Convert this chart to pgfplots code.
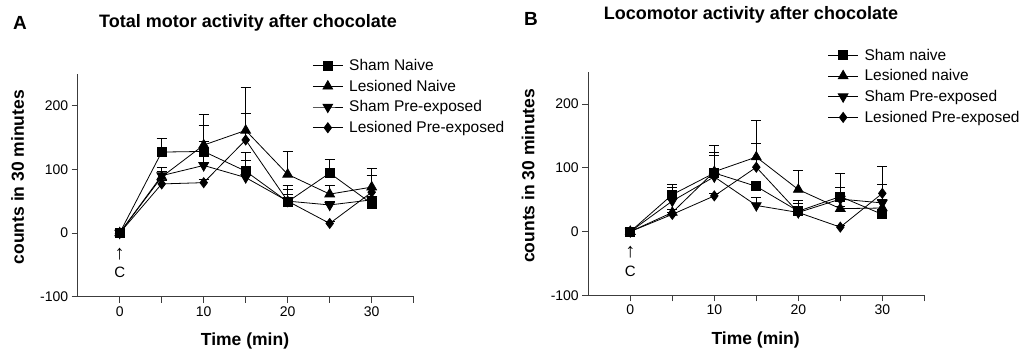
\documentclass[border=0pt]{standalone}
\usepackage{fontspec}
\setmainfont{Liberation Sans}
\usepackage{pgfplots}
\pgfplotsset{compat=1.18}
\definecolor{axgray}{RGB}{60,60,60}
\pgfplotsset{
  panel/.style={
    scale only axis,
    width=336pt, height=223pt,
    anchor=south west,
    xmin=-5, xmax=35, ymin=-100, ymax=250,
    axis x line=bottom, axis y line=left,
    axis line style={-, axgray, line width=0.9pt},
    tick align=outside,
    tick style={axgray, line width=0.9pt},
    major tick length=6pt, minor tick length=6pt,
    xtick={0,10,20,30}, xticklabels={0,10,20,30},
    minor xtick={5,15,25,35},
    ytick={-100,0,100,200}, yticklabels={-100,0,100,200},
    ticklabel style={font=\fontsize{14}{16}\selectfont},
    label style={font=\bfseries\fontsize{17.5}{20}\selectfont},
    xlabel={Time (min)},
    ylabel={counts in 30 minutes},
    x label style={at={(rel axis cs:0.498,-0.20)}, anchor=center},
    y label style={at={(rel axis cs:-0.179,0.536)}, anchor=center, rotate=0},
    legend cell align=left,
    legend style={draw=none, fill=none, font=\fontsize{15.5}{17}\selectfont,
      row sep=4pt, inner sep=0pt,
      /tikz/every odd column/.append style={column sep=4pt}},
    legend image code/.code={\draw[mark repeat=2,mark phase=2] plot coordinates {(0pt,0pt) (15pt,0pt) (30pt,0pt)};},
    clip=false,
  },
  errs/.style={black, line width=0.8pt, error bars/.cd, y dir=plus, y explicit,
    error bar style={black, line width=0.8pt},
    error mark options={rotate=90, mark size=5pt, black, line width=0.8pt}},
  msq/.style={black, line width=0.8pt, mark=square*, mark size=4.5pt, mark options={solid, fill=black}},
  mtu/.style={black, line width=0.8pt, mark=triangle*, mark size=5.6pt, mark options={solid, fill=black}},
  mtd/.style={black, line width=0.8pt, mark=triangle*, mark size=5.6pt, mark options={solid, fill=black, rotate=180}},
  mdi/.style={black, line width=0.8pt, mark=diamond*, mark size=5pt, mark options={solid, fill=black}},
}
\begin{document}
\begin{tikzpicture}[x=1pt,y=1pt]
\useasboundingbox (0,0) rectangle (1026,356);
\node[font=\bfseries\fontsize{19}{21}\selectfont] at (20,333.5) {A};
\node[font=\bfseries\fontsize{18}{20}\selectfont] at (248,333.5) {Total motor activity after chocolate};
\node[font=\bfseries\fontsize{19}{21}\selectfont] at (531,337) {B};
\node[font=\bfseries\fontsize{18}{20}\selectfont] at (751,341.5) {Locomotor activity after chocolate};

\begin{axis}[panel, at={(77.7pt,59.3pt)},
  legend style={at={(rel axis cs:0.698,1.075)}, anchor=north west}]
\addplot[msq, errs] coordinates {(0,0) +- (0,0) (5,127) +- (0,22) (10,128) +- (0,41) (15,97) +- (0,17) (20,49) +- (0,12) (25,94) +- (0,22) (30,46) +- (0,8)};
\addlegendentry{Sham Naive}
\addplot[mtu, errs] coordinates {(0,0) +- (0,0) (5,88) +- (0,8) (10,138) +- (0,48) (15,161) +- (0,68) (20,92) +- (0,36) (25,61) +- (0,13) (30,72) +- (0,29)};
\addlegendentry{Lesioned Naive}
\addplot[mtd, errs] coordinates {(0,0) +- (0,0) (5,90) +- (0,13) (10,106) +- (0,37) (15,87) +- (0,40) (20,50) +- (0,19) (25,44) +- (0,6) (30,52) +- (0,5)};
\addlegendentry{Sham Pre-exposed}
\addplot[mdi, errs] coordinates {(0,0) +- (0,0) (5,77) +- (0,5) (10,79) +- (0,5) (15,146) +- (0,41) (20,50) +- (0,25) (25,15) +- (0,3) (30,64) +- (0,27)};
\addlegendentry{Lesioned Pre-exposed}
\addplot[msq, forget plot] coordinates {(0,0)};
\node[font=\fontsize{20}{22}\selectfont] at (axis cs:0,-33) {↑};
\node[font=\fontsize{15}{17}\selectfont] at (axis cs:0,-62) {C};
\end{axis}

\begin{axis}[panel, at={(588.3pt,60.7pt)},
  legend style={at={(rel axis cs:0.712,1.115)}, anchor=north west}]
\addplot[msq, errs] coordinates {(0,0) +- (0,0) (5,58) +- (0,16) (10,92) +- (0,32) (15,71) +- (0,5) (20,32) +- (0,12) (25,55) +- (0,36) (30,27) +- (0,6)};
\addlegendentry{Sham naive}
\addplot[mtu, errs] coordinates {(0,0) +- (0,0) (5,30) +- (0,5) (10,94) +- (0,41) (15,117) +- (0,57) (20,66) +- (0,30) (25,36) +- (0,4) (30,37) +- (0,37)};
\addlegendentry{Lesioned naive}
\addplot[mtd, errs] coordinates {(0,0) +- (0,0) (5,48) +- (0,22) (10,86) +- (0,33) (15,41) +- (0,13) (20,30) +- (0,19) (25,51) +- (0,19) (30,45) +- (0,5)};
\addlegendentry{Sham Pre-exposed}
\addplot[mdi, errs] coordinates {(0,0) +- (0,0) (5,27) +- (0,3) (10,56) +- (0,4) (15,101) +- (0,37) (20,30) +- (0,5) (25,7) +- (0,3) (30,60) +- (0,43)};
\addlegendentry{Lesioned Pre-exposed}
\addplot[msq, forget plot] coordinates {(0,0)};
\node[font=\fontsize{20}{22}\selectfont] at (axis cs:0,-33) {↑};
\node[font=\fontsize{15}{17}\selectfont] at (axis cs:0,-62) {C};
\end{axis}
\end{tikzpicture}
\end{document}
